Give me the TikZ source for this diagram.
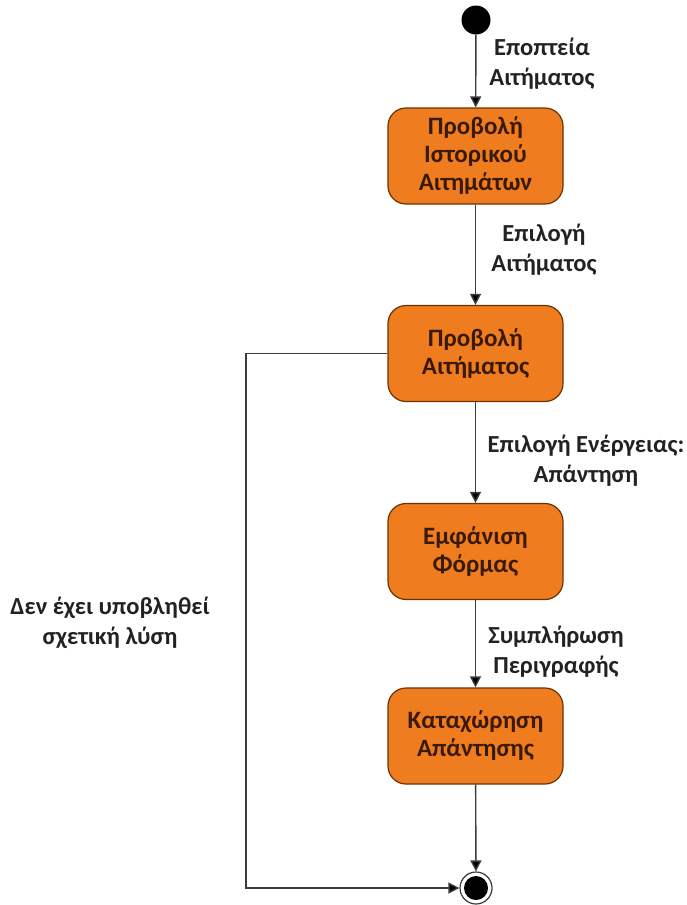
\documentclass[tikz,border=0pt]{standalone}
\usepackage{fontspec}
\setmainfont{Carlito}
\usetikzlibrary{arrows.meta}
\definecolor{boxfill}{HTML}{EF7D20}
\definecolor{boxedge}{HTML}{6B3300}
\definecolor{boxtext}{HTML}{3A1A05}
\definecolor{flow}{HTML}{3C3C3C}
\definecolor{labeltext}{HTML}{222222}
\begin{document}
\begin{tikzpicture}[x=1pt,y=-1pt,
  state/.style={draw=boxedge,line width=1.2pt,fill=boxfill,rounded corners=18pt,
    minimum width=175pt,minimum height=96pt,align=center,text=boxtext,
    font=\fontsize{25}{28}\selectfont\bfseries},
  lbl/.style={align=center,text=labeltext,font=\fontsize{24.5}{30}\selectfont\bfseries},
  flowline/.style={draw=flow,line width=1.4pt,-{Triangle[length=11pt,width=11pt,fill=black]}}]
\useasboundingbox (0,0) rectangle (686,905);
% initial and final pseudo-states
\node[circle,fill=black,minimum size=29pt,inner sep=0pt] (start) at (476,20) {};
\node[circle,draw=flow,line width=1.2pt,fill=white,minimum size=32pt,inner sep=0pt] (end) at (476,888) {};
\fill[black] (end.center) circle (12pt);
% activity states
\node[state] (hist) at (475.5,156) {Προβολή\\Ιστορικού\\Αιτημάτων};
\node[state] (req) at (475.5,353.5) {Προβολή\\Αιτήματος};
\node[state] (form) at (475.5,551.5) {Εμφάνιση\\Φόρμας};
\node[state] (save) at (475.5,736) {Καταχώρηση\\Απάντησης};
% transitions
\draw[flowline] (start) -- (hist);
\draw[flowline] (hist) -- (req);
\draw[flowline] (req) -- (form);
\draw[flowline] (form) -- (save);
\draw[flowline] (save) -- (end);
\coordinate (bend) at (246,353.5);
\draw[flowline] (req.west) -- (bend) |- (end.west);
% transition labels
\node[lbl] (l1) at (542,64) {Εποπτεία\\Αιτήματος};
\node[lbl] (l2) at (544,250) {Επιλογή\\Αιτήματος};
\node[lbl] (l3) at (586,461) {Επιλογή Ενέργειας:\\Απάντηση};
\node[lbl] (l4) at (556,652) {Συμπλήρωση\\Περιγραφής};
\node[lbl] (l5) at (110,623) {Δεν έχει υποβληθεί\\σχετική λύση};
\end{tikzpicture}
\end{document}
